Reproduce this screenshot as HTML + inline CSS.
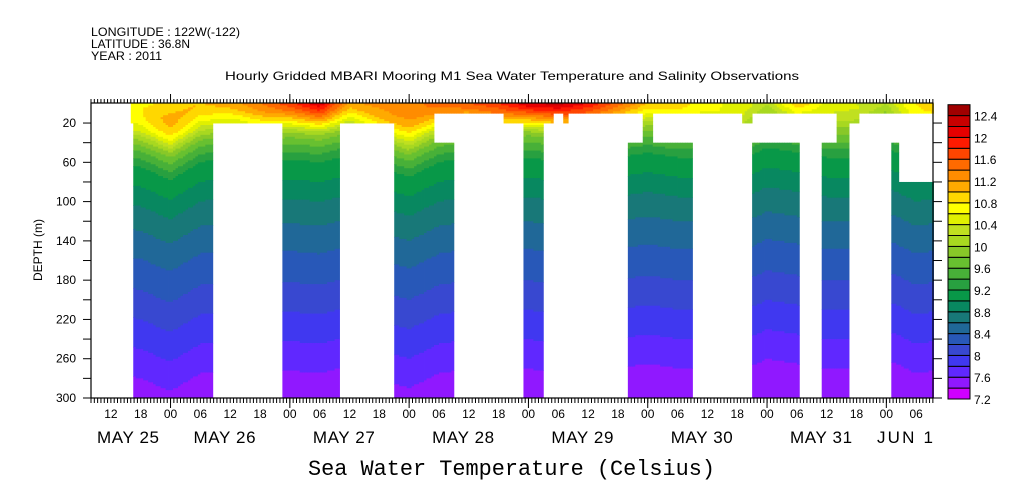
<!DOCTYPE html>
<html><head><meta charset="utf-8">
<style>
body{margin:0;background:#fff;width:1009px;height:504px;overflow:hidden}
svg{display:block}
text{font-family:"Liberation Sans",sans-serif;fill:#000}
</style></head>
<body>
<svg id="chart" width="1009" height="504">
<g>
<text x="91" y="36" font-size="12" textLength="149" lengthAdjust="spacingAndGlyphs">LONGITUDE : 122W(-122)</text>
<text x="91" y="48" font-size="12" textLength="99" lengthAdjust="spacingAndGlyphs">LATITUDE : 36.8N</text>
<text x="91" y="60" font-size="12" textLength="71" lengthAdjust="spacingAndGlyphs">YEAR : 2011</text>
<text x="225" y="80" font-size="12" textLength="574" lengthAdjust="spacingAndGlyphs">Hourly Gridded MBARI Mooring M1 Sea Water Temperature and Salinity Observations</text>
</g>
<g id="plot"></g>
<g id="axes"></g>
<g id="cbar"></g>
<text x="42" y="250" font-size="12" text-anchor="middle" transform="rotate(-90 42 250)">DEPTH (m)</text>
<text x="308" y="475" font-size="22" textLength="407" lengthAdjust="spacingAndGlyphs" style="font-family:'Liberation Mono',monospace">Sea Water Temperature (Celsius)</text>
</svg>
<script>
// ---- data ----
const levels=[7.2,7.4,7.6,7.8,8.0,8.2,8.4,8.6,8.8,9.0,9.2,9.4,9.6,9.8,10.0,10.2,10.4,10.6,10.8,11.0,11.2,11.4,11.6,11.8,12.0,12.2,12.4,12.6];
const colors=["#d000ff","#9018ff","#6028ff","#4038f0","#3848d0","#2858b8","#206898","#187878","#088860","#089848","#28a040","#48b038","#68c030","#88c828","#a8d820","#c0e020","#e0f000","#ffff00","#ffd700","#ffaa00","#ff8c00","#ff6a00","#ff4500","#ff1a00","#e60000","#c80000","#a00000"];
const cbarLabels=[7.2,7.6,8,8.4,8.8,9.2,9.6,10,10.4,10.8,11.2,11.6,12,12.4];
const profDepth=[0,5,10,15,20,30,40,50,60,80,100,125,150,185,215,245,275,300];
const profTemp=[11.2,11.1,11.0,10.8,10.6,10.1,9.7,9.45,9.2,9.0,8.8,8.6,8.42,8.2,8.0,7.8,7.6,7.45];
const sampleHours=[12,18,24,30,36,42,48,54,60,66,72,78,84,90,96,102,108,114,120,126,132,138,144,150,156,162,168,174,180];
const surfaceTemp=[10.8,10.7,10.9,11.0,11.2,11.4,11.8,12.2,11.3,11.2,11.3,11.5,11.7,11.8,12.3,12.3,12.0,11.6,11.2,11.0,10.8,10.5,10.6,11.2,10.6,10.5,10.6,10.8,11.2];
const isoShift=[0,5,18,0,-5,0,-3,0,-8,5,15,0,-5,0,-5,0,0,-5,-10,-5,-5,0,-15,-10,-5,-5,-15,0,-5];
// valid data regions: [hourStart, hourEnd, depthTop, depthBottom] (hours since May 25 00:00)
const validRegions=[[15.8,177.4,0,11],[15.8,77,11,21],[16.7,32.7,21,300],[46.6,58,21,300],[68.8,77,21,40],[68.8,81,40,300],
[90.9,101,11,21],[103,104.2,11,21],[119,121,11,40],[139,141.2,11,21],[158,162.3,11,21],[94.9,99.1,11,300],[158,160.3,21,40],
[116,129.1,40,300],[141,150.3,40,300],[155,160.3,40,300],[169.2,170.4,40,300],[170.4,177.4,80,300]];
const dayLabels=["MAY 25","MAY 26","MAY 27","MAY 28","MAY 29","MAY 30","MAY 31","JUN 1"];
const depthTicks=[20,60,100,140,180,220,260,300];

// ---- scales ----
const X0=91,X1=933,Y0=103.4,Y1=398,H0=8,HR=119.3/24;
const xs=h=>X0+(h-H0)*HR;
const ys=d=>Y0+d*(Y1-Y0)/300;
const NS="http://www.w3.org/2000/svg";
function mk(tag,attrs,parent){const e=document.createElementNS(NS,tag);for(const k in attrs)e.setAttribute(k,attrs[k]);parent.appendChild(e);return e;}
function interp(xa,ya,x){if(x<=xa[0])return ya[0];for(let i=1;i<xa.length;i++){if(x<=xa[i]){const f=(x-xa[i-1])/(xa[i]-xa[i-1]);return ya[i-1]+f*(ya[i]-ya[i-1]);}}return ya[ya.length-1];}
function temp(h,d){const s=interp(sampleHours,isoShift,h);const sf=interp(sampleHours,surfaceTemp,h);
 let t=interp(profDepth,profTemp,Math.max(0,d-s));const w=Math.max(0,1-d/30);t+=(sf-11.2)*w;return t;}
function valid(h,d){return validRegions.some(r=>h>=r[0]&&h<r[1]&&d>=r[2]&&d<r[3]);}
function band(t){let i=0;while(i<colors.length-1&&t>=levels[i+1])i++;return i;}

const plot=document.getElementById('plot');
const dh=0.5,dz=2;
for(let h=H0;h<177.4;h+=dh){
 let run=null;
 const flush=()=>{if(run){const r=mk('rect',{x:xs(h).toFixed(2),y:ys(run.z0).toFixed(2),width:(dh*HR+0.4).toFixed(2),height:(ys(run.z1)-ys(run.z0)+0.4).toFixed(2),fill:colors[run.b]},plot);
  
  run=null;}};
 for(let d=0;d<300;d+=dz){
  const hc=h+dh/2,dc=d+dz/2;
  if(!valid(hc,dc)){flush();continue;}
  const b=band(temp(hc,dc));
  if(run&&run.b===b){run.z1=d+dz;}else{flush();run={b:b,z0:d,z1:d+dz};}
 }
 flush();
}

// ---- axes ----
const ax=document.getElementById('axes');
const fr=mk('rect',{x:X0,y:103,width:X1-X0,height:295,fill:'none',stroke:'#000','stroke-width':1.2},ax);


const step=29.83/9;
for(let x=X0;x<=X1;x+=step){
 mk('line',{x1:x,y1:103,x2:x,y2:99,stroke:'#000','stroke-width':1},ax);
 mk('line',{x1:x,y1:398,x2:x,y2:403,stroke:'#000','stroke-width':1},ax);
}
for(let h=12;h<178;h+=6){
 const x=xs(h);const hh=h%24;
 if(hh===0){mk('line',{x1:x,y1:94,x2:x,y2:103,stroke:'#000'},ax);mk('line',{x1:x,y1:398,x2:x,y2:408,stroke:'#000'},ax);}
 const t=mk('text',{x:x,y:418,'font-size':12,'text-anchor':'middle'},ax);t.textContent=(hh<10?'0':'')+hh;
 
 
}
dayLabels.forEach((l,i)=>{
 let x=xs(i*24)+23,w=62;
 if(i===0)x=97;
 if(i===7){x=877;w=56;}
 const t=mk('text',{x:x,y:443,'font-size':17,textLength:w,lengthAdjust:'spacing'},ax);t.textContent=l;
 
 });
for(let d=20;d<=300;d+=20){const y=ys(d);mk('line',{x1:X0-8,y1:y,x2:X0,y2:y,stroke:'#000'},ax);mk('line',{x1:X1,y1:y,x2:X1+9,y2:y,stroke:'#000'},ax);}
depthTicks.forEach(d=>{const t=mk('text',{x:X0-15,y:ys(d)+4,'font-size':12,'text-anchor':'end'},ax);t.textContent=d;
 
 });

// ---- colorbar ----
const cb=document.getElementById('cbar');
const CB0=399,CBH=10.9;
colors.forEach((c,i)=>{const r=mk('rect',{x:948,y:CB0-(i+1)*CBH,width:22,height:CBH,fill:c,stroke:'#000','stroke-width':1},cb);
 
 });
cbarLabels.forEach(v=>{const i=Math.round((v-7.2)/0.2);const t=mk('text',{x:974,y:CB0-i*CBH+5,'font-size':12},cb);t.textContent=v;
 
 });
</script>
</body></html>
